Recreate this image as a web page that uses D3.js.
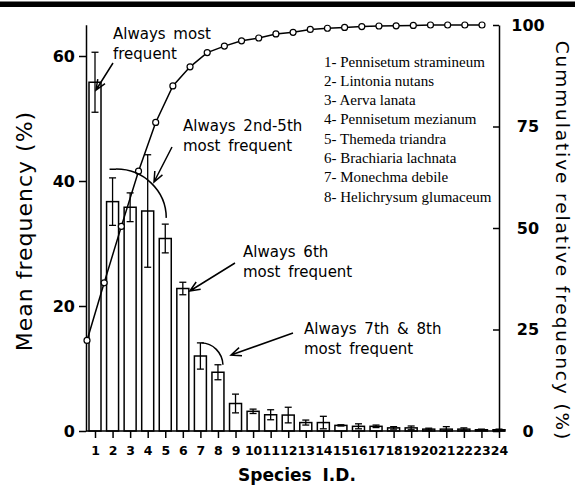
<!DOCTYPE html>
<html>
<head>
<meta charset="utf-8">
<script src="https://cdn.jsdelivr.net/npm/d3@7"></script>
<style>
  body { margin: 0; background: #fff; }
  svg { display: block; }
</style>
</head>
<body>
<svg id="chart" width="575" height="487"></svg>
<script>
// Species ranks and values
const categories = d3.range(1, 25).map(String);
const meanFreq = [55.8, 36.7, 35.8, 35.2, 30.8, 22.8, 12.0, 9.4, 4.4, 3.15, 2.6, 2.55,
                  1.35, 1.35, 0.9, 0.75, 0.75, 0.5, 0.5, 0.3, 0.3, 0.3, 0.2, 0.2];
const errFreq = [4.8, 3.8, 2.3, 9.0, 2.3, 1.0, 2.1, 1.2, 1.5, 0.35, 0.8, 1.25,
                 0.4, 1.0, 0.1, 0.4, 0.2, 0.2, 0.3, 0.15, 0.4, 0.2, 0.1, 0.1];
const cumFreq = [22.3, 36.5, 50.4, 64.0, 76.0, 85.0, 89.7, 93.2, 94.8, 96.1, 96.8, 97.8,
                 98.2, 98.9, 99.2, 99.4, 99.6, 99.75, 99.8, 99.9, 100, 100, 100, 100];
const leftTicks = [0, 20, 40, 60];
const rightTicks = [0, 25, 50, 75, 100];
const speciesNames = [
  "1- Pennisetum stramineum",
  "2- Lintonia nutans",
  "3- Aerva lanata",
  "4- Pennisetum mezianum",
  "5- Themeda triandra",
  "6- Brachiaria lachnata",
  "7- Monechma debile",
  "8- Helichrysum glumaceum"
];

const svg = d3.select("#chart");
const sans = "'DejaVu Sans', Verdana, sans-serif";

// top rule
svg.append("rect").attr("x", 0).attr("y", 1.5).attr("width", 575).attr("height", 5.5).attr("fill", "#000");

// scales
const x = d3.scalePoint().domain(categories).range([95, 499]);
const xc = d3.scalePoint().domain(categories).range([87, 482]); // cumulative points sit a bit left
const y = d3.scaleLinear().domain([0, 65]).range([431, 24.75]);
const yR = d3.scaleLinear().domain([0, 100]).range([431, 25]);
const barW = 12;

// bars
svg.append("g")
  .selectAll("rect")
  .data(meanFreq)
  .enter()
  .append("rect")
  .attr("x", (d, i) => x(categories[i]) - barW / 2)
  .attr("y", (d) => y(d))
  .attr("width", barW)
  .attr("height", (d) => y(0) - y(d))
  .attr("fill", "#fff")
  .attr("stroke", "#000")
  .attr("stroke-width", 1.5);

// error bars
const err = svg.append("g").attr("stroke", "#000").attr("stroke-width", 1.3);
meanFreq.forEach((d, i) => {
  const cx = x(categories[i]);
  const hi = y(d + errFreq[i]);
  const lo = y(Math.max(0, d - errFreq[i]));
  err.append("line").attr("x1", cx).attr("x2", cx).attr("y1", hi).attr("y2", lo);
  err.append("line").attr("x1", cx - 3.5).attr("x2", cx + 3.5).attr("y1", hi).attr("y2", hi);
  err.append("line").attr("x1", cx - 3.5).attr("x2", cx + 3.5).attr("y1", lo).attr("y2", lo);
});

// x axis
const xAxis = svg.append("g")
  .attr("transform", `translate(0,${y(0)})`)
  .call(d3.axisBottom(x).tickSize(7).tickPadding(8));
xAxis.select(".domain").remove();
xAxis.selectAll("line").attr("stroke-width", 1.5);
xAxis.selectAll("text")
  .style("font-family", sans).style("font-size", "12.5px").style("font-weight", "bold");
svg.append("line").attr("x1", 86).attr("x2", 505).attr("y1", y(0)).attr("y2", y(0))
  .attr("stroke", "#000").attr("stroke-width", 1.5);

// left axis
const yAxis = svg.append("g")
  .attr("transform", "translate(86,0)")
  .call(d3.axisLeft(y).tickValues(leftTicks).tickSize(7).tickSizeOuter(0).tickPadding(4));
yAxis.selectAll("path, line").attr("stroke-width", 1.5);
yAxis.selectAll("text")
  .style("font-family", sans).style("font-size", "16px").style("font-weight", "bold");

// right axis
const rAxis = svg.append("g")
  .attr("transform", "translate(499,0)")
  .call(d3.axisRight(yR).tickValues(rightTicks).tickSize(-6).tickSizeOuter(0));
rAxis.selectAll("path, line").attr("stroke-width", 1.5);
rAxis.selectAll("text")
  .attr("x", 29)
  .attr("text-anchor", "middle")
  .style("font-family", sans).style("font-size", "16px").style("font-weight", "bold");

// cumulative line
const line = d3.line()
  .x((d, i) => xc(categories[i]))
  .y((d) => yR(d));
svg.append("path")
  .datum(cumFreq)
  .attr("d", line)
  .attr("fill", "none")
  .attr("stroke", "#000")
  .attr("stroke-width", 1.5);
svg.append("g")
  .selectAll("circle")
  .data(cumFreq)
  .enter()
  .append("circle")
  .attr("cx", (d, i) => xc(categories[i]))
  .attr("cy", (d) => yR(d))
  .attr("r", 3)
  .attr("fill", "#fff")
  .attr("stroke", "#000")
  .attr("stroke-width", 1.2);

// axis titles
svg.append("text")
  .attr("transform", "translate(32,231) rotate(-90)")
  .attr("text-anchor", "middle")
  .style("font-family", sans).style("font-size", "22px").style("letter-spacing", "1px")
  .text("Mean frequency (%)");
svg.append("text")
  .attr("transform", "translate(556,241) rotate(90)")
  .attr("text-anchor", "middle")
  .style("font-family", sans).style("font-size", "18.5px").style("letter-spacing", "1.9px")
  .text("Cummulative relative frequency (%)");
svg.append("text")
  .attr("x", 297).attr("y", 481)
  .attr("text-anchor", "middle")
  .style("font-family", sans).style("font-size", "17px").style("font-weight", "bold")
  .style("word-spacing", "5px")
  .text("Species I.D.");

// legend of species names
svg.append("g")
  .selectAll("text")
  .data(speciesNames)
  .enter()
  .append("text")
  .attr("x", 324)
  .attr("y", (d, i) => 66.7 + i * 19.26)
  .style("font-family", "'Liberation Serif', 'Times New Roman', serif")
  .style("font-size", "15px")
  .text((d) => d);

// annotations
function note(x0, y0, lines) {
  const t = svg.append("text")
    .style("font-family", sans).style("font-size", "15px").style("word-spacing", "3px");
  lines.forEach((s, i) => t.append("tspan").attr("x", x0).attr("y", y0 + i * 20).text(s));
}
function arrow(x1, y1, x2, y2) {
  const a = Math.atan2(y2 - y1, x2 - x1);
  const L = 11, w = 0.4;
  const p = d3.path();
  p.moveTo(x1, y1); p.lineTo(x2, y2);
  p.moveTo(x2 - L * Math.cos(a - w), y2 - L * Math.sin(a - w));
  p.lineTo(x2, y2);
  p.lineTo(x2 - L * Math.cos(a + w), y2 - L * Math.sin(a + w));
  svg.append("path").attr("d", p.toString())
    .attr("fill", "none").attr("stroke", "#000").attr("stroke-width", 1.5);
}

note(113, 39, ["Always most", "frequent"]);
arrow(113, 63, x("1") + 1, 90);

note(183, 131, ["Always 2nd-5th", "most frequent"]);
arrow(172, 147, 154, 182);
svg.append("path")
  .attr("d", `M${x("2") - 3},${y(41.9)} L${x("2") + 3},${y(41.9)} A50,49 0 0 1 ${x("5") + 1},${y(34.1)}`)
  .attr("fill", "none").attr("stroke", "#000").attr("stroke-width", 1.5);

note(243, 257, ["Always 6th", "most frequent"]);
arrow(235, 263, x("6") + 7, 291);

note(304, 334, ["Always 7th & 8th", "most frequent"]);
arrow(293, 333, 231, 355);
svg.append("path")
  .attr("d", `M${x("7") + 1},${y(14.1)} A22,23 0 0 1 ${x("8") + 5},${y(10.6)}`)
  .attr("fill", "none").attr("stroke", "#000").attr("stroke-width", 1.5);
</script>
</body>
</html>
